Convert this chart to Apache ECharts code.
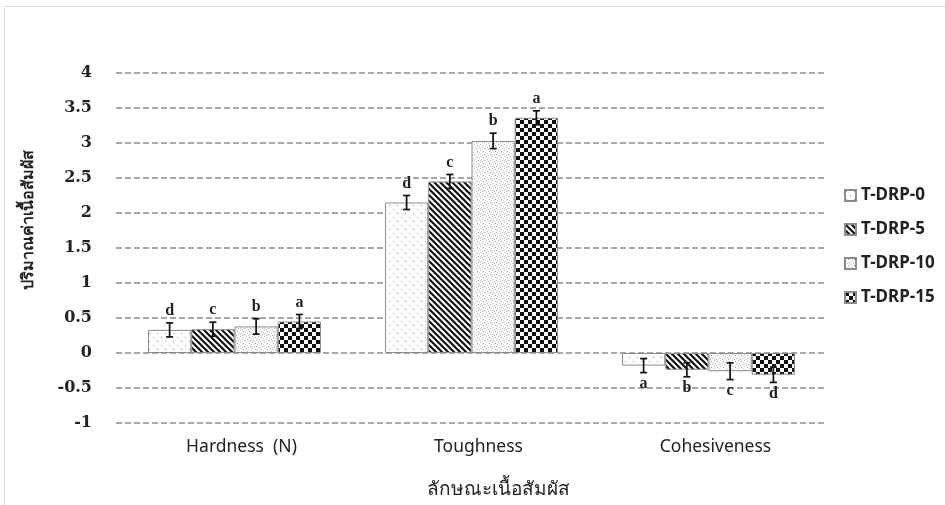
<!DOCTYPE html>
<html>
<head>
<meta charset="utf-8">
<script src="https://cdn.jsdelivr.net/npm/echarts@6/dist/echarts.min.js"></script>
<style>
  html, body { margin: 0; padding: 0; background: #fff; }
  #chart { width: 945px; height: 505px; }
</style>
</head>
<body>
<div id="chart"></div>
<script>
// Texture measurements per formulation
const categories = ['Hardness  (N)', 'Toughness', 'Cohesiveness'];
const seriesNames = ['T-DRP-0', 'T-DRP-5', 'T-DRP-10', 'T-DRP-15'];

const drp0 = [0.33, 2.15, -0.18];
const drp5 = [0.34, 2.45, -0.24];
const drp10 = [0.38, 3.03, -0.26];
const drp15 = [0.45, 3.36, -0.31];

const err0 = [0.10, 0.10, 0.10];
const err5 = [0.10, 0.10, 0.10];
const err10 = [0.11, 0.11, 0.12];
const err15 = [0.10, 0.10, 0.11];

const letters0 = ['d', 'd', 'a'];
const letters5 = ['c', 'c', 'b'];
const letters10 = ['b', 'b', 'c'];
const letters15 = ['a', 'a', 'd'];

const yTicks = { min: -1, max: 4, interval: 0.5 };

const yTitle = 'ปริมาณค่าเนื้อสัมผัส';
const xTitle = 'ลักษณะเนื้อสัมผัส';

const values = [drp0, drp5, drp10, drp15];
const errors = [err0, err5, err10, err15];
const letters = [letters0, letters5, letters10, letters15];

// Fill textures for each series
function tile(w, h, draw) {
  const c = document.createElement('canvas');
  c.width = w; c.height = h;
  const ctx = c.getContext('2d');
  ctx.fillStyle = '#fff';
  ctx.fillRect(0, 0, w, h);
  draw(ctx);
  return { image: c, repeat: 'repeat' };
}
const fills = [
  tile(8, 8, ctx => {
    ctx.fillStyle = '#9a9a9a';
    ctx.fillRect(1, 1, 1, 1);
    ctx.fillRect(5, 5, 1, 1);
  }),
  tile(6, 6, ctx => {
    ctx.strokeStyle = '#111';
    ctx.lineWidth = 2.2;
    ctx.beginPath();
    ctx.moveTo(-3, -3); ctx.lineTo(9, 9);
    ctx.moveTo(-9, -3); ctx.lineTo(3, 9);
    ctx.moveTo(3, -3); ctx.lineTo(15, 9);
    ctx.stroke();
  }),
  tile(6, 6, ctx => {
    const pts = [[0,0,'#bbb'],[3,1,'#999'],[1,3,'#ccc'],[4,4,'#aaa'],[2,5,'#bbb'],[5,2,'#ccc'],[0,4,'#ddd']];
    pts.forEach(p => { ctx.fillStyle = p[2]; ctx.fillRect(p[0], p[1], 1, 1); });
  }),
  tile(8, 8, ctx => {
    ctx.fillStyle = '#111';
    ctx.fillRect(0, 0, 4, 4);
    ctx.fillRect(4, 4, 4, 4);
  })
];

const CAT_GAP = 0.27;
const nSeries = seriesNames.length;

function errorRenderer(si) {
  return function (params, api) {
    const idx = api.value(0);
    const v = api.value(1);
    const e = api.value(2);
    const catW = api.size([1, 0])[0];
    const groupW = catW * (1 - CAT_GAP);
    const off = -groupW / 2 + groupW * (si + 0.5) / nSeries;
    const top = api.coord([idx, v + e]);
    const bot = api.coord([idx, v - e]);
    const x = top[0] + off;
    const cap = 3.5;
    const style = { stroke: '#111', lineWidth: 1.7 };
    const letter = letters[si][params.dataIndex];
    const pos = v >= 0;
    return {
      type: 'group',
      children: [
        { type: 'line', shape: { x1: x, y1: top[1], x2: x, y2: bot[1] }, style },
        { type: 'line', shape: { x1: x - cap, y1: top[1], x2: x + cap, y2: top[1] }, style },
        { type: 'line', shape: { x1: x - cap, y1: bot[1], x2: x + cap, y2: bot[1] }, style },
        {
          type: 'text',
          style: {
            text: letter,
            x: x,
            y: pos ? top[1] - 4 : bot[1] + 3,
            align: 'center',
            verticalAlign: pos ? 'bottom' : 'top',
            font: 'bold 16px "Liberation Serif", serif',
            fill: '#222'
          }
        }
      ]
    };
  };
}

const series = [];
seriesNames.forEach((name, si) => {
  series.push({
    name,
    type: 'bar',
    data: values[si],
    barGap: '0%',
    barCategoryGap: (CAT_GAP * 100) + '%',
    itemStyle: { color: fills[si], borderColor: '#8c8c8c', borderWidth: 1 },
    emphasis: { disabled: true },
    z: 2
  });
});
seriesNames.forEach((name, si) => {
  series.push({
    type: 'custom',
    name: name + '-err',
    renderItem: errorRenderer(si),
    data: values[si].map((v, i) => [i, v, errors[si][i]]),
    z: 5,
    silent: true
  });
});

const chart = echarts.init(document.getElementById('chart'), null, { renderer: 'canvas' });
chart.setOption({
  animation: false,
  backgroundColor: '#fff',
  grid: { left: 116, right: 118, top: 73, bottom: 82 },
  legend: {
    data: seriesNames,
    orient: 'vertical',
    left: 839,
    top: 182,
    itemWidth: 11,
    itemHeight: 11,
    itemGap: 17,
    icon: 'rect',
    textStyle: { fontFamily: '"Noto Sans", sans-serif', fontWeight: 'bold', fontSize: 17, lineHeight: 17, color: '#222' },
    selectedMode: false
  },
  xAxis: {
    type: 'category',
    data: categories,
    axisLine: { show: false },
    axisTick: { show: false },
    axisLabel: { fontFamily: '"Noto Sans", sans-serif', fontSize: 17.5, color: '#222', margin: 15, padding: [0, 0, 0, 14] },
    splitLine: { show: false }
  },
  yAxis: {
    type: 'value',
    min: yTicks.min,
    max: yTicks.max,
    interval: yTicks.interval,
    axisLine: { show: false },
    axisTick: { show: false },
    axisLabel: { fontFamily: '"DejaVu Serif", serif', fontWeight: 'bold', fontSize: 16, color: '#222', margin: 24, padding: [4, 0, 0, 0] },
    splitLine: { show: true, lineStyle: { color: '#8a8a8a', type: [6, 3], width: 1.5 } }
  },
  graphic: [
    { type: 'rect', left: 2, top: 4, shape: { width: 941, height: 520 }, style: { fill: 'none', stroke: '#dedede', lineWidth: 1 }, silent: true },
    {
      type: 'text', x: 28, y: 220, rotation: Math.PI / 2, silent: true,
      style: { text: yTitle, font: 'bold 16px "Noto Sans", sans-serif', fill: '#222', align: 'center', verticalAlign: 'middle' }
    },
    {
      type: 'text', x: 498, y: 490, silent: true,
      style: { text: xTitle, font: '19px "Noto Sans", sans-serif', fill: '#222', align: 'center', verticalAlign: 'middle' }
    }
  ],
  series
});
</script>
</body>
</html>
